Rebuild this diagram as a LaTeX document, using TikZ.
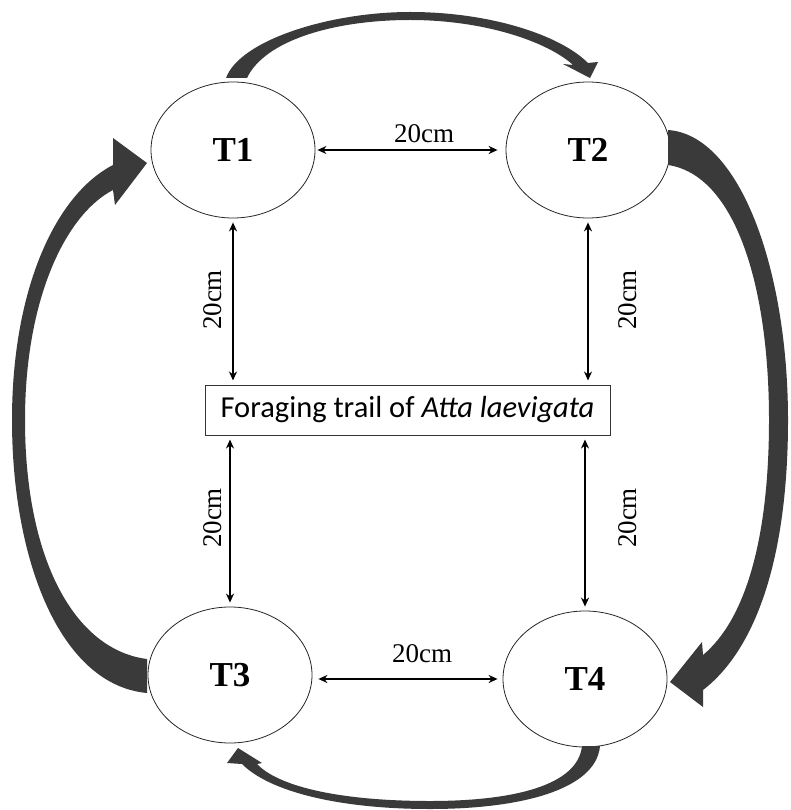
\documentclass[tikz,border=0pt]{standalone}
\usepackage{fontspec}
\setmainfont{Liberation Serif}
\newfontfamily\calib{Carlito}
\usetikzlibrary{shapes.geometric,arrows.meta}
\definecolor{bigarrow}{HTML}{3A3A3A}
\tikzset{
  trap/.style={ellipse, draw=black!85, line width=0.8pt, minimum width=164pt, minimum height=136pt, inner sep=0pt,
    font=\fontsize{35}{35}\selectfont\bfseries},
  dimarrow/.style={line width=1.8pt, {Stealth[length=9pt,width=8pt]}-{Stealth[length=9pt,width=8pt]}},
  dimlabel/.style={font=\fontsize{27}{27}\selectfont, inner sep=0pt},
  trailbox/.style={draw=black!80, line width=1pt, minimum width=405pt, minimum height=50pt, inner sep=0pt,
    font=\calib\fontsize{30.5}{30.5}\selectfont},
  flow/.style={fill=bigarrow, draw=none}
}
\begin{document}
\begin{tikzpicture}[x=1pt,y=-1pt]
\useasboundingbox (0,0) rectangle (790,810);
\fill[white] (0,0) rectangle (790,810);

\node[trap] (T1) at (233,150) {T1};
\node[trap] (T2) at (588,150) {T2};
\node[trap] (T3) at (230,675) {T3};
\node[trap] (T4) at (585,679) {T4};
\node[trailbox] (box) at (407.5,410) {Foraging trail of \textit{Atta laevigata}};

% measuring arrows
\draw[dimarrow, shorten <=2pt, shorten >=8pt] (T1.east) -- (T2.west);
\draw[dimarrow, shorten <=6pt, shorten >=5pt] (T3.east |- T4.west) -- (T4.west);
\draw[dimarrow, shorten <=4pt, shorten >=4pt] (T1.south) -- (T1.south |- box.north);
\draw[dimarrow, shorten <=4pt, shorten >=4pt] (T2.south) -- (T2.south |- box.north);
\draw[dimarrow, shorten <=4pt, shorten >=4pt] (box.south -| T3.north) -- (T3.north);
\draw[dimarrow, shorten <=4pt, shorten >=4pt] (box.south -| T4.north) -- (T4.north);

\node[dimlabel] (d12) at (424,134) {20cm};
\node[dimlabel] (d34) at (422,654) {20cm};
\node[dimlabel, rotate=90] (d1b) at (213,300) {20cm};
\node[dimlabel, rotate=90] (d2b) at (628,300) {20cm};
\node[dimlabel, rotate=90] (d3b) at (213,518) {20cm};
\node[dimlabel, rotate=90] (d4b) at (628,518) {20cm};

% T1 -> T2
\fill[flow] (226,78) .. controls (240,40) and (330,12) .. (410,12)
  .. controls (490,12) and (560,35) .. (588,63) -- (598,62) -- (590,78) -- (563,64) -- (573,65)
  .. controls (548,42) and (485,20) .. (410,20)
  .. controls (335,20) and (265,40) .. (247,78) -- cycle;
% T2 -> T4
\fill[flow] (668,130) .. controls (740,135) and (788,270) .. (788,420)
  .. controls (788,560) and (755,650) .. (703,690) -- (703,707) -- (670,682) -- (702,642) -- (703,655)
  .. controls (745,620) and (769,540) .. (769,420)
  .. controls (769,285) and (735,175) .. (668,165) -- cycle;
% T4 -> T3
\fill[flow] (600,746) .. controls (596,790) and (520,809) .. (430,809)
  .. controls (340,809) and (270,792) .. (242,764) -- (227,763) -- (238,748) -- (262,763) -- (257,764)
  .. controls (280,788) and (345,801) .. (430,801)
  .. controls (515,801) and (578,785) .. (582,746) -- cycle;
% T3 -> T1
\fill[flow] (147,693) .. controls (60,685) and (12,560) .. (12,420)
  .. controls (12,290) and (55,195) .. (113,165) -- (113,138) -- (147,163) -- (115,205) -- (113,190)
  .. controls (65,215) and (25,300) .. (25,420)
  .. controls (25,560) and (75,650) .. (147,659) -- cycle;
\end{tikzpicture}
\end{document}
